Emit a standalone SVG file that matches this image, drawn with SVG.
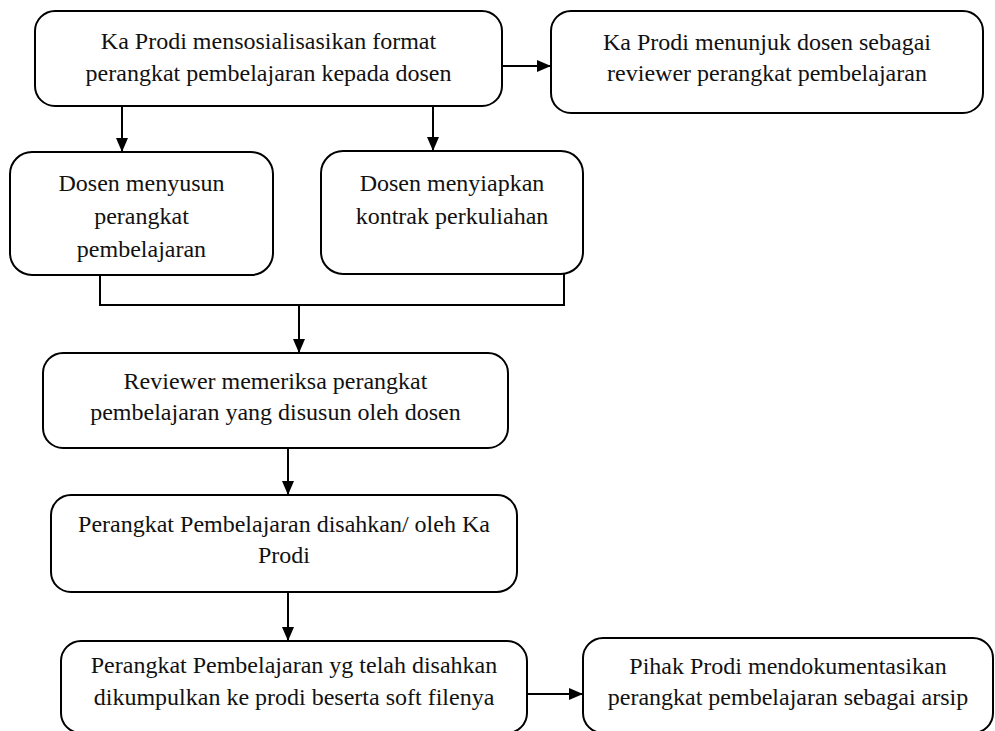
<svg xmlns="http://www.w3.org/2000/svg" width="995" height="731" viewBox="0 0 995 731">
<style>
.box{fill:#fff;stroke:#000;stroke-width:2}
.t{font-family:"Liberation Serif","Times New Roman",serif;font-size:24px;fill:#111;text-anchor:middle}
.c{fill:none;stroke:#000;stroke-width:2}
</style>
<defs>
<marker id="ah" markerUnits="userSpaceOnUse" markerWidth="14" markerHeight="12" refX="14" refY="6" orient="auto">
<path d="M0,0 L14,6 L0,12 z" fill="#000"/>
</marker>
</defs>
<rect width="995" height="731" fill="#fff"/>
<g id="connectors">
<line class="c" x1="502" y1="66" x2="551" y2="66" marker-end="url(#ah)"/>
<line class="c" x1="122" y1="106" x2="122" y2="152" marker-end="url(#ah)"/>
<line class="c" x1="433" y1="106" x2="433" y2="151" marker-end="url(#ah)"/>
<polyline class="c" points="100,275 100,305 564,305 564,274"/>
<line class="c" x1="299" y1="305" x2="299" y2="353" marker-end="url(#ah)"/>
<line class="c" x1="288" y1="448" x2="288" y2="495" marker-end="url(#ah)"/>
<line class="c" x1="288" y1="592" x2="288" y2="641" marker-end="url(#ah)"/>
<line class="c" x1="527" y1="694" x2="583" y2="694" marker-end="url(#ah)"/>
</g>
<g id="n1">
<rect class="box" x="35" y="11" width="467" height="95" rx="20"/>
<text class="t" x="268.5" y="49">Ka Prodi mensosialisasikan format</text>
<text class="t" x="268.5" y="81">perangkat pembelajaran kepada dosen</text>
</g>
<g id="n2">
<rect class="box" x="551" y="11" width="432" height="102" rx="20"/>
<text class="t" x="767" y="50">Ka Prodi menunjuk dosen sebagai</text>
<text class="t" x="767" y="81">reviewer perangkat pembelajaran</text>
</g>
<g id="n3">
<rect class="box" x="10" y="152" width="263" height="123" rx="22"/>
<text class="t" x="141.5" y="191">Dosen menyusun</text>
<text class="t" x="141.5" y="224">perangkat</text>
<text class="t" x="141.5" y="257">pembelajaran</text>
</g>
<g id="n4">
<rect class="box" x="321" y="151" width="262" height="123" rx="22"/>
<text class="t" x="452" y="191">Dosen menyiapkan</text>
<text class="t" x="452" y="224">kontrak perkuliahan</text>
</g>
<g id="n5">
<rect class="box" x="43" y="353" width="465" height="95" rx="20"/>
<text class="t" x="275.5" y="389">Reviewer memeriksa perangkat</text>
<text class="t" x="275.5" y="420">pembelajaran yang disusun oleh dosen</text>
</g>
<g id="n6">
<rect class="box" x="51" y="495" width="466" height="97" rx="20"/>
<text class="t" x="284" y="532">Perangkat Pembelajaran disahkan/ oleh Ka</text>
<text class="t" x="284" y="563">Prodi</text>
</g>
<g id="n7">
<rect class="box" x="61" y="641" width="466" height="92" rx="20"/>
<text class="t" x="294" y="673">Perangkat Pembelajaran yg telah disahkan</text>
<text class="t" x="294" y="705">dikumpulkan ke prodi beserta soft filenya</text>
</g>
<g id="n8">
<rect class="box" x="583" y="638" width="410" height="95" rx="20"/>
<text class="t" x="788" y="674">Pihak Prodi mendokumentasikan</text>
<text class="t" x="788" y="705">perangkat pembelajaran sebagai arsip</text>
</g>
</svg>
